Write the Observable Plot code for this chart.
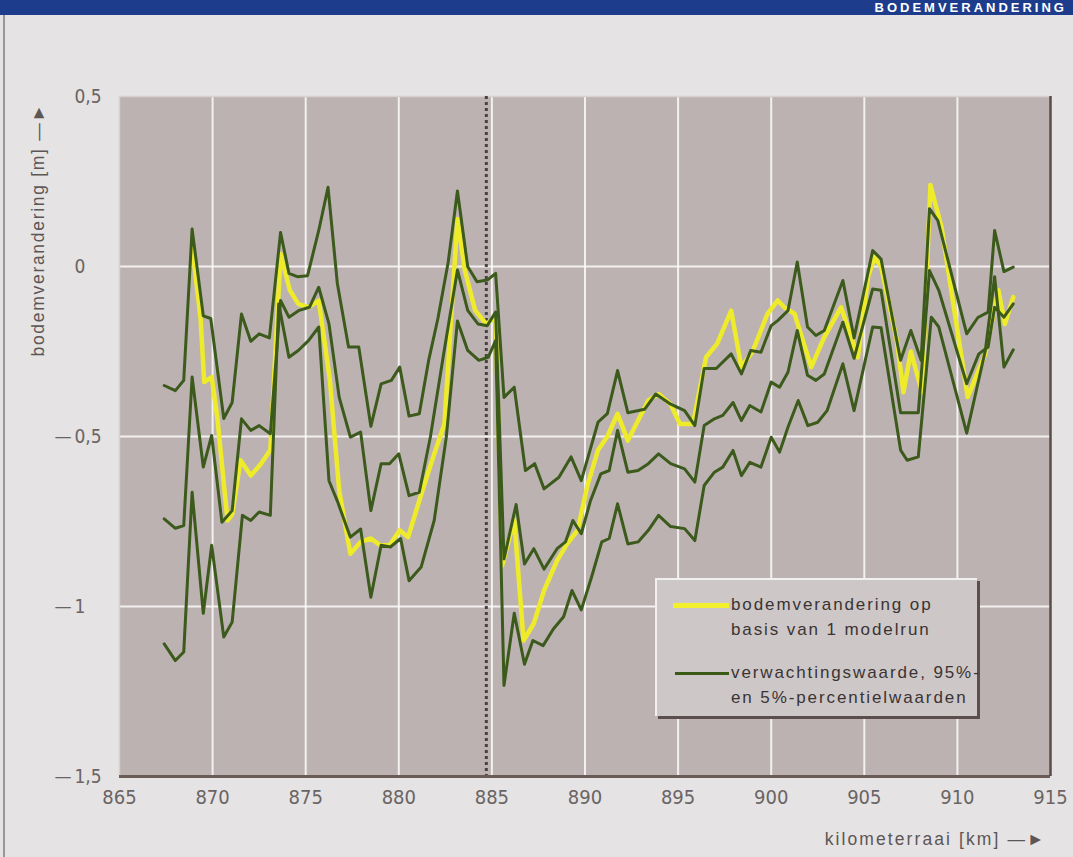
<!DOCTYPE html>
<html><head><meta charset="utf-8">
<script src="https://cdn.jsdelivr.net/npm/d3@7"></script>
<script src="https://cdn.jsdelivr.net/npm/@observablehq/plot@0.6"></script>
<style>
body{margin:0;background:#e4e2e2;}
#wrap{position:relative;width:1073px;height:857px;overflow:hidden;background:#e5e3e3;}
#wrap svg{position:absolute;left:0;top:0;background:transparent;}
#hdr{position:absolute;left:0;top:0;width:1073px;height:15px;background:#1d3d8c;overflow:hidden;z-index:2;}
#hdr span{position:absolute;right:6px;top:0px;font:bold 13px/15px "Liberation Sans",sans-serif;color:#fff;letter-spacing:3px;white-space:nowrap;}
#edgeL{position:absolute;left:3px;top:15px;width:2px;height:842px;background:#9a9696;}
#legend{position:absolute;left:655px;top:578px;width:320px;height:136px;background:#cec7c7;border-top:2px solid #f1efef;border-left:2px solid #f1efef;box-shadow:3px 3px 0 #5c4e4e;z-index:3;font-family:"Liberation Sans",Arial,sans-serif;font-size:17px;color:#3a3434;letter-spacing:1.9px;}
#legend .sw{position:absolute;height:4px;}
#legend .tx{position:absolute;left:74px;line-height:25px;white-space:nowrap;}
</style></head>
<body><div id="wrap">
<div id="hdr"><span>BODEMVERANDERING</span></div>
<div id="edgeL"></div>
<div id="legend">
  <div class="sw" style="left:16px;top:23px;width:56px;background:#f2ef2c;height:5px;"></div>
  <div class="tx" style="top:12px;">bodemverandering op<br>basis van 1 modelrun</div>
  <div class="sw" style="left:18px;top:92px;width:54px;background:#3b5a18;height:3px;"></div>
  <div class="tx" style="top:80px;">verwachtingswaarde, 95%-<br>en 5%-percentielwaarden</div>
</div>
</div>
<script>
// ---- data ----
const upperKm  = [867.4,868.0,868.45,868.9,869.5,869.9,870.6,871.05,871.55,872.05,872.5,873.05,873.65,874.1,874.55,875.1,875.7,876.2,876.7,877.3,877.85,878.5,879.05,879.6,880.05,880.55,881.1,881.6,882.1,882.65,883.15,883.7,884.2,884.75,885.2,885.65,886.2,886.8,887.3,887.8,888.6,889.25,889.8,890.7,891.2,891.75,892.3,893.2,893.8,894.6,895.35,895.9,896.4,897.05,897.85,898.4,898.9,899.45,900.0,900.35,900.9,901.4,901.95,902.4,902.85,903.85,904.45,905.45,905.9,906.95,907.5,908.05,908.5,908.95,910.5,911.1,911.65,912.0,912.5,913.0];
const upperVal = [-0.35,-0.365,-0.335,0.11,-0.145,-0.153,-0.447,-0.40,-0.14,-0.22,-0.198,-0.21,0.10,-0.02,-0.03,-0.027,0.106,0.233,-0.05,-0.237,-0.237,-0.47,-0.345,-0.335,-0.296,-0.44,-0.433,-0.277,-0.153,0.012,0.222,0.0,-0.045,-0.04,-0.02,-0.385,-0.355,-0.60,-0.58,-0.654,-0.62,-0.56,-0.63,-0.458,-0.433,-0.306,-0.43,-0.42,-0.375,-0.405,-0.424,-0.468,-0.30,-0.30,-0.257,-0.316,-0.247,-0.252,-0.174,-0.159,-0.13,0.013,-0.178,-0.203,-0.188,-0.041,-0.21,0.047,0.022,-0.276,-0.188,-0.276,0.17,0.135,-0.198,-0.15,-0.134,0.106,-0.015,-0.002];

const middleKm  = [867.4,868.0,868.45,868.9,869.5,869.95,870.5,871.05,871.55,872.05,872.5,873.1,873.65,874.1,874.65,875.2,875.7,876.25,876.8,877.4,877.95,878.5,879.05,879.5,880.0,880.55,881.1,881.7,882.4,883.15,883.7,884.25,884.75,885.2,885.65,886.3,886.75,887.25,887.8,888.5,888.95,889.35,889.8,890.3,890.85,891.3,891.75,892.3,892.85,893.4,893.95,894.6,895.35,895.9,896.4,896.95,897.4,897.95,898.4,898.85,899.45,900.0,900.45,900.9,901.4,901.95,902.4,902.85,903.85,904.45,905.45,905.9,906.95,907.9,908.5,909.0,910.5,911.15,911.65,912.0,912.5,913.0];
const middleVal = [-0.742,-0.77,-0.762,-0.325,-0.59,-0.497,-0.752,-0.718,-0.448,-0.482,-0.468,-0.492,-0.10,-0.149,-0.129,-0.12,-0.061,-0.169,-0.385,-0.502,-0.487,-0.718,-0.58,-0.58,-0.551,-0.674,-0.664,-0.50,-0.26,-0.01,-0.129,-0.169,-0.174,-0.134,-0.86,-0.70,-0.875,-0.83,-0.89,-0.83,-0.81,-0.747,-0.786,-0.688,-0.61,-0.60,-0.482,-0.605,-0.60,-0.58,-0.551,-0.58,-0.595,-0.634,-0.468,-0.448,-0.438,-0.40,-0.453,-0.409,-0.428,-0.34,-0.355,-0.311,-0.188,-0.32,-0.335,-0.316,-0.164,-0.27,-0.066,-0.07,-0.43,-0.43,-0.012,-0.07,-0.345,-0.257,-0.237,-0.12,-0.149,-0.11];

const lowerKm  = [867.4,868.0,868.45,868.9,869.5,869.95,870.6,871.05,871.6,872.05,872.5,873.1,873.55,874.1,874.6,875.15,875.7,876.25,876.7,877.4,877.95,878.5,879.05,879.55,880.1,880.55,881.2,881.9,882.55,883.15,883.7,884.3,884.8,885.2,885.65,886.2,886.75,887.2,887.75,888.3,888.85,889.3,889.8,890.35,890.9,891.3,891.75,892.3,892.85,893.4,893.95,894.6,895.35,895.9,896.4,896.95,897.4,897.95,898.4,898.85,899.45,900.0,900.45,900.9,901.45,901.97,902.5,903.0,903.85,904.45,905.45,905.9,906.95,907.3,907.9,908.6,909.0,910.5,911.5,912.0,912.5,913.0];
const lowerVal = [-1.11,-1.159,-1.134,-0.664,-1.02,-0.82,-1.09,-1.046,-0.732,-0.747,-0.722,-0.732,-0.11,-0.267,-0.247,-0.218,-0.178,-0.63,-0.69,-0.796,-0.772,-0.973,-0.82,-0.825,-0.80,-0.924,-0.884,-0.747,-0.502,-0.16,-0.247,-0.276,-0.267,-0.218,-1.232,-1.02,-1.17,-1.10,-1.115,-1.066,-1.03,-0.953,-1.01,-0.914,-0.81,-0.80,-0.698,-0.816,-0.81,-0.776,-0.732,-0.765,-0.771,-0.806,-0.644,-0.605,-0.59,-0.541,-0.615,-0.576,-0.59,-0.502,-0.546,-0.473,-0.394,-0.468,-0.458,-0.424,-0.286,-0.424,-0.178,-0.18,-0.54,-0.57,-0.56,-0.149,-0.178,-0.49,-0.247,-0.03,-0.296,-0.245];

const runKm  = [868.9,869.35,869.55,869.95,870.25,870.8,871.05,871.5,872.05,872.6,873.1,873.65,874.15,874.6,875.15,875.7,876.3,876.8,877.4,877.95,878.5,879.0,879.5,880.05,880.5,881.15,881.85,882.45,883.15,883.55,884.1,884.7,885.2,885.55,886.2,886.7,887.25,887.8,888.5,889.05,889.6,890.15,890.7,891.2,891.75,892.3,892.85,893.4,893.95,894.6,895.1,895.8,896.5,897.1,897.85,898.4,899.0,899.8,900.35,900.7,901.25,902.15,902.85,903.75,904.3,904.65,905.2,905.55,905.9,906.75,907.1,907.5,908.1,908.55,909.15,910.55,911.5,912.2,912.55,913.0];
const runVal = [0.06,-0.15,-0.34,-0.325,-0.443,-0.747,-0.73,-0.57,-0.615,-0.58,-0.54,0.037,-0.07,-0.11,-0.12,-0.10,-0.335,-0.66,-0.845,-0.81,-0.80,-0.82,-0.82,-0.776,-0.796,-0.68,-0.56,-0.463,0.14,-0.012,-0.129,-0.169,-0.149,-0.88,-0.745,-1.10,-1.05,-0.953,-0.865,-0.815,-0.776,-0.64,-0.54,-0.50,-0.433,-0.512,-0.453,-0.394,-0.375,-0.405,-0.463,-0.463,-0.267,-0.227,-0.13,-0.296,-0.25,-0.139,-0.10,-0.12,-0.139,-0.296,-0.208,-0.12,-0.208,-0.267,-0.03,0.027,0.0,-0.218,-0.37,-0.25,-0.37,0.24,0.115,-0.384,-0.257,-0.07,-0.169,-0.09];

const xTicks = [865,870,875,880,885,890,895,900,905,910,915];
const xGrid = [870,875,880,885,890,895,900,905,910];
const yTicks = [0.5,0,-0.5,-1,-1.5];
const yTickText = ["0,5","0","0,5","1","1,5"];
const yNeg = [-0.5,-1,-1.5];
const yGrid = [0,-0.5,-1];
const splitKm = [884.7];
const yTitle = "bodemverandering [m] —►";
const xTitle = "kilometerraai [km] —►";

const toPts = (km, val) => km.map((k,i)=>({km:k, v:val[i]}));
const upper = toPts(upperKm, upperVal);
const middle = toPts(middleKm, middleVal);
const lower = toPts(lowerKm, lowerVal);
const run = toPts(runKm, runVal);

const green = "#3b5a1b";
const yellow = "#eeec2a";
const tickFont = '"Liberation Sans Narrow","DejaVu Sans Condensed",sans-serif';
const labelFont = '"Liberation Sans",Arial,sans-serif';

const chart = Plot.plot({
  width: 1073, height: 857,
  marginLeft: 119, marginRight: 23, marginTop: 96, marginBottom: 81,
  x: {domain: [865, 915], axis: null},
  y: {domain: [-1.5, 0.5], axis: null},
  style: {background: "transparent", overflow: "visible"},
  marks: [
    Plot.frame({fill: "#bdb2b2", stroke: null}),
    Plot.gridX(xGrid, {stroke: "#ffffff", strokeOpacity: 0.8, strokeWidth: 2}),
    Plot.gridY(yGrid, {stroke: "#ffffff", strokeOpacity: 0.8, strokeWidth: 2}),
    Plot.ruleY([0.5], {stroke: "#d8d0d0", strokeWidth: 1.5}),
    Plot.ruleX([865], {stroke: "#d8d0d0", strokeWidth: 1.5}),
    Plot.ruleX(splitKm, {stroke: "#4a4242", strokeWidth: 3, strokeDasharray: "3,3"}),
    Plot.line(run, {x: "km", y: "v", stroke: yellow, strokeWidth: 4.5, strokeLinejoin: "round"}),
    Plot.line(upper, {x: "km", y: "v", stroke: green, strokeWidth: 3, strokeLinejoin: "round"}),
    Plot.line(middle, {x: "km", y: "v", stroke: green, strokeWidth: 3, strokeLinejoin: "round"}),
    Plot.line(lower, {x: "km", y: "v", stroke: green, strokeWidth: 3, strokeLinejoin: "round"}),
    Plot.ruleY([-1.5], {stroke: "#6c5c57", strokeWidth: 3}),
    Plot.ruleX([915], {stroke: "#5b4b47", strokeWidth: 2.5}),
    // x tick labels
    Plot.text(xTicks, {x: d => d, frameAnchor: "bottom", dy: 27, text: d => String(d),
      fontSize: 20, fill: "#6a6464", fontFamily: tickFont}),
    // y tick labels
    Plot.text(yTicks, {y: d => d, frameAnchor: "left", dx: -45, textAnchor: "start",
      text: (d, i) => yTickText[i], fontSize: 19, fill: "#6a6464", fontFamily: tickFont}),
    Plot.text(yNeg, {y: d => d, frameAnchor: "left", dx: -48, textAnchor: "end",
      text: () => "—", fontSize: 19, fill: "#6a6464", fontFamily: tickFont}),
    // axis titles
    Plot.text([yTitle], {frameAnchor: "top-left", dx: -88, dy: 260,
      rotate: -90, textAnchor: "start", text: d => d, fontSize: 17.5, fill: "#5c5656",
      fontFamily: labelFont}),
    Plot.text([xTitle], {frameAnchor: "bottom-right", dx: -4, dy: 68,
      textAnchor: "end", text: d => d, fontSize: 17.5, fill: "#5c5656",
      fontFamily: labelFont})
  ]
});
// letter spacing for the axis titles
d3.select(chart).selectAll("text").each(function() {
  const t = this.textContent;
  if (t === yTitle) this.style.letterSpacing = "1.7px";
  if (t === xTitle) this.style.letterSpacing = "2.1px";
});
document.getElementById("wrap").appendChild(chart);
</script>
</body></html>
